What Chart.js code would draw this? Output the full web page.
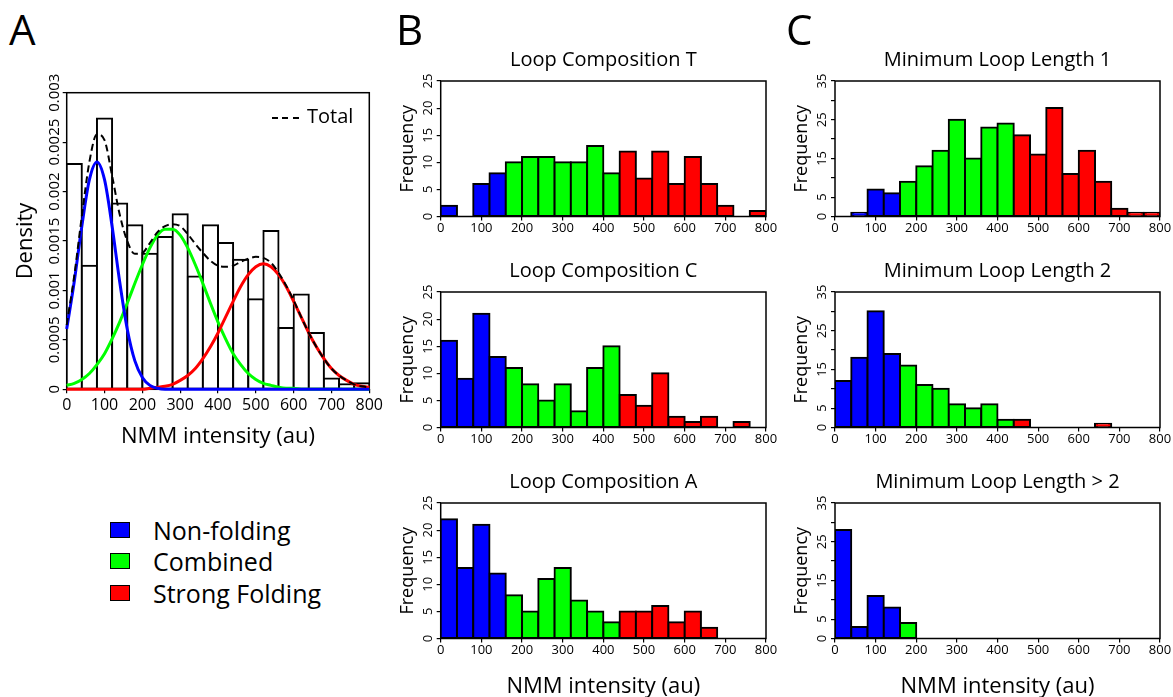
<!DOCTYPE html>
<html>
<head>
<meta charset="utf-8">
<script src="https://cdn.jsdelivr.net/npm/chart.js@4.4.1/dist/chart.umd.min.js"></script>
<style>
  html, body { margin: 0; padding: 0; background: #fff; overflow: hidden; }
  body { width: 1173px; height: 697px; position: relative; font-family: 'Open Sans', sans-serif; color: #000; }
  canvas { position: absolute; }
  .letter { position: absolute; top: 8px; font-size: 42px; line-height: 42px; }
  .total { position: absolute; left: 272px; top: 102px; height: 27px; display: flex; align-items: center; font-size: 20px; }
  .total .dash { width: 27px; height: 2px; margin-right: 8px; position: relative; top: 2px;
    background: repeating-linear-gradient(to right, #000 0 6px, transparent 6px 10.5px); }
  .legend { position: absolute; left: 110px; top: 514px; font-size: 25px; }
  .legend div { display: flex; align-items: center; height: 31.5px; }
  .legend .sq { width: 20px; height: 16px; box-sizing: border-box; border: 1px solid #000; margin-right: 23px; }
</style>
</head>
<body>
<canvas id="panelA" width="390" height="395" style="left:0px;top:65px"></canvas>
<canvas id="loopT" width="392" height="201" style="left:390px;top:41px"></canvas>
<canvas id="loopC" width="392" height="201" style="left:390px;top:252px"></canvas>
<canvas id="loopA" width="392" height="237" style="left:390px;top:463px"></canvas>
<canvas id="minLoop1" width="388" height="201" style="left:785px;top:41px"></canvas>
<canvas id="minLoop2" width="388" height="201" style="left:785px;top:252px"></canvas>
<canvas id="minLoopMore" width="388" height="237" style="left:785px;top:463px"></canvas>

<div class="letter" style="left:9px">A</div>
<div class="letter" style="left:396px">B</div>
<div class="letter" style="left:786px">C</div>
<div class="total"><span class="dash"></span>Total</div>
<div class="legend">
  <div><span class="sq" style="background:#0000ff"></span>Non-folding</div>
  <div><span class="sq" style="background:#00ff00"></span>Combined</div>
  <div><span class="sq" style="background:#ff0000"></span>Strong Folding</div>
</div>

<script>
Chart.defaults.font.family = "'Open Sans', sans-serif";
Chart.defaults.color = '#000';

// histogram bins (left edges), width 40
const bins = [0, 40, 80, 120, 160, 200, 240, 280, 320, 360, 400, 440, 480, 520, 560, 600, 640, 680, 720, 760];
const binWidth = 40;
const groupEdges = [160, 440];
const groupColors = ['#0000ff', '#00ff00', '#ff0000'];

// panel A
const densityAll = [0.00228, 0.00125, 0.00274, 0.00188, 0.00166, 0.00137, 0.00154, 0.00177, 0.00114, 0.00166,
  0.00148, 0.00131, 0.00091, 0.00160, 0.00062, 0.00096, 0.00057, 0.00011, 0.00005, 0.00006];
const curveX = [0, 20, 40, 60, 80, 100, 120, 140, 160, 180, 200, 220, 240, 260, 280, 300, 320, 340, 360, 380, 400,
  420, 440, 460, 480, 500, 520, 540, 560, 580, 600, 620, 640, 660, 680, 700, 720, 740, 760, 780, 800];
const nonFoldingCurve = [0.00061, 0.00109, 0.00165, 0.00212, 0.00230, 0.00212, 0.00165, 0.00109, 0.00061, 0.00029,
  0.00012, 0.00004, 0.00001, 0, 0, 0, 0, 0, 0, 0, 0, 0, 0, 0, 0, 0, 0, 0, 0, 0, 0, 0, 0, 0, 0, 0, 0, 0, 0, 0, 0];
const combinedCurve = [0.00004, 0.00006, 0.00010, 0.00016, 0.00025, 0.00036, 0.00051, 0.00068, 0.00087, 0.00107,
  0.00126, 0.00143, 0.00156, 0.00162, 0.00162, 0.00156, 0.00143, 0.00126, 0.00107, 0.00087, 0.00068,
  0.00051, 0.00036, 0.00025, 0.00016, 0.00010, 0.00006, 0.00004, 0.00002, 0.00001, 0.00001,
  0, 0, 0, 0, 0, 0, 0, 0, 0, 0];
const strongCurve = [0, 0, 0, 0, 0, 0, 0, 0, 0, 0, 0, 0.00001, 0.00002, 0.00003, 0.00005, 0.00009, 0.00014,
  0.00021, 0.00031, 0.00043, 0.00057, 0.00073, 0.00089, 0.00104, 0.00116, 0.00124, 0.00127, 0.00124, 0.00116,
  0.00104, 0.00089, 0.00073, 0.00057, 0.00043, 0.00031, 0.00021, 0.00014, 0.00009, 0.00005, 0.00003, 0.00002];
const totalCurve = [0.00065, 0.00115, 0.00175, 0.00230, 0.00258, 0.00252, 0.00216, 0.00177, 0.00150, 0.00137,
  0.00138, 0.00148, 0.00159, 0.00165, 0.00167, 0.00165, 0.00157, 0.00147, 0.00138, 0.00130, 0.00125,
  0.00124, 0.00125, 0.00129, 0.00132, 0.00134, 0.00133, 0.00128, 0.00118, 0.00105, 0.00090, 0.00073,
  0.00057, 0.00043, 0.00031, 0.00021, 0.00014, 0.00009, 0.00005, 0.00003, 0.00002];

// panel B: loop composition
const loopT = [2, 0, 6, 8, 10, 11, 11, 10, 10, 13, 8, 12, 7, 12, 6, 11, 6, 2, 0, 1];
const loopC = [16, 9, 21, 13, 11, 8, 5, 8, 3, 11, 15, 6, 4, 10, 2, 1, 2, 0, 1, 0];
const loopA = [22, 13, 21, 12, 8, 5, 11, 13, 7, 5, 3, 5, 5, 6, 3, 5, 2, 0, 0, 0];
const loopTicks = [0, 5, 10, 15, 20, 25];

// panel C: minimum loop length
const minLoop1 = [0, 1, 7, 6, 9, 13, 17, 25, 15, 23, 24, 21, 16, 28, 11, 17, 9, 2, 1, 1];
const minLoop2 = [12, 18, 30, 19, 16, 11, 10, 6, 5, 6, 2, 2, 0, 0, 0, 0, 1, 0, 0, 0];
const minLoopMore = [28, 3, 11, 8, 4, 0, 0, 0, 0, 0, 0, 0, 0, 0, 0, 0, 0, 0, 0, 0];
const minLoopTicks = [0, 5, 15, 25, 35];

function groupColor(start) {
    if (start < groupEdges[0]) return groupColors[0];
    if (start < groupEdges[1]) return groupColors[1];
    return groupColors[2];
}

// padding so that rotated y labels sit centred at a given distance from the axis
function yTickPadding(label, size, offset, tickLen) {
    const c = document.createElement('canvas').getContext('2d');
    c.font = size + "px 'Open Sans', sans-serif";
    return offset - tickLen - c.measureText(label).width / 2;
}

// R style frame round the plot region
const boxPlugin = {
    id: 'box',
    beforeDatasetsDraw(chart) {
        const a = chart.chartArea;
        const ctx = chart.ctx;
        ctx.save();
        ctx.strokeStyle = '#000';
        ctx.lineWidth = 1.5;
        ctx.strokeRect(a.left, a.top, a.right - a.left, a.bottom - a.top);
        ctx.restore();
    }
};

const tickGrid = { offset: false, drawOnChartArea: false, drawTicks: true, tickLength: 4, color: '#000', lineWidth: 1.2 };

function histChart(id, counts, title, yMax, yLabels, layout) {
    const ctx = document.getElementById(id).getContext('2d');
    return new Chart(ctx, {
        type: 'bar',
        data: {
            datasets: [{
                data: counts.map((c, i) => ({ x: bins[i] + binWidth / 2, y: c })),
                backgroundColor: bins.map(groupColor),
                borderColor: '#000',
                borderWidth: 2,
                borderSkipped: false,
                inflateAmount: c => (c.raw && c.raw.y > 0 ? 1 : 0),
                barPercentage: 1,
                categoryPercentage: 1
            }]
        },
        options: {
            responsive: false,
            animation: false,
            events: [],
            layout: { padding: { top: 0, left: 0, right: layout.right, bottom: layout.bottom } },
            plugins: {
                legend: { display: false },
                tooltip: { enabled: false },
                title: {
                    display: true,
                    text: title,
                    fullSize: false,
                    color: '#000',
                    font: { size: 20, weight: 'normal' },
                    padding: { top: 7.3, bottom: 8.7 }
                }
            },
            scales: {
                x: {
                    type: 'linear',
                    min: 0,
                    max: 800,
                    offset: false,
                    ticks: { stepSize: 100, autoSkip: false, maxRotation: 0, padding: 0.4, font: { size: 13 } },
                    grid: tickGrid,
                    border: { display: false },
                    title: {
                        display: layout.xTitle,
                        text: 'NMM intensity (au)',
                        font: { size: 22 },
                        padding: { top: 0, bottom: 0 }
                    },
                    afterFit: s => { s.height = layout.xh; }
                },
                y: {
                    min: 0,
                    max: yMax,
                    ticks: {
                        stepSize: 5,
                        autoSkip: false,
                        minRotation: 90,
                        maxRotation: 90,
                        crossAlign: 'center',
                        padding: yTickPadding(String(yMax), 13, 12.6, 4),
                        font: { size: 13 },
                        callback: v => (yLabels.includes(v) ? String(v) : '')
                    },
                    grid: tickGrid,
                    border: { display: false },
                    title: {
                        display: true,
                        text: 'Frequency',
                        font: { size: 18 },
                        padding: { top: layout.yw - 32.9 - 10.8, bottom: 0 }
                    },
                    afterFit: s => { s.width = layout.yw; }
                }
            }
        },
        plugins: [boxPlugin]
    });
}

const colB = { yw: 50.7, right: 16 };
const colC = { yw: 50, right: 13 };
const upper = { xh: 25, bottom: 0.5, xTitle: false };
const lower = { xh: 61.2, bottom: 0.3, xTitle: true };

histChart('loopT', loopT, 'Loop Composition T', 25, loopTicks, { ...colB, ...upper });
histChart('loopC', loopC, 'Loop Composition C', 25, loopTicks, { ...colB, ...upper });
histChart('loopA', loopA, 'Loop Composition A', 25, loopTicks, { ...colB, ...lower });
histChart('minLoop1', minLoop1, 'Minimum Loop Length 1', 35, minLoopTicks, { ...colC, ...upper });
histChart('minLoop2', minLoop2, 'Minimum Loop Length 2', 35, minLoopTicks, { ...colC, ...upper });
histChart('minLoopMore', minLoopMore, 'Minimum Loop Length > 2', 35, minLoopTicks, { ...colC, ...lower });

// Panel A: density histogram with fitted components
const curvePoints = ys => curveX.map((x, i) => ({ x: x, y: ys[i] }));
const curveStyle = {
    type: 'line',
    pointRadius: 0,
    borderWidth: 3,
    fill: false,
    cubicInterpolationMode: 'monotone',
    clip: 6
};

const ctxA = document.getElementById('panelA').getContext('2d');
new Chart(ctxA, {
    type: 'bar',
    data: {
        datasets: [
            { ...curveStyle, label: 'Total', data: curvePoints(totalCurve), borderColor: '#000', borderWidth: 2, borderDash: [7, 4], order: 0 },
            { ...curveStyle, label: 'Non-folding', data: curvePoints(nonFoldingCurve), borderColor: '#0000ff', order: 1 },
            { ...curveStyle, label: 'Strong Folding', data: curvePoints(strongCurve), borderColor: '#ff0000', order: 2 },
            { ...curveStyle, label: 'Combined', data: curvePoints(combinedCurve), borderColor: '#00ff00', order: 3 },
            {
                label: 'All',
                data: densityAll.map((d, i) => ({ x: bins[i] + binWidth / 2, y: d })),
                backgroundColor: '#fff',
                borderColor: '#000',
                borderWidth: 2,
                borderSkipped: false,
                inflateAmount: 1,
                barPercentage: 1,
                categoryPercentage: 1,
                order: 4
            }
        ]
    },
    options: {
        responsive: false,
        animation: false,
        events: [],
        layout: { padding: { top: 27.7, left: 0, right: 20.7, bottom: 9.7 } },
        plugins: {
            legend: { display: false },
            tooltip: { enabled: false }
        },
        scales: {
            x: {
                type: 'linear',
                min: 0,
                max: 800,
                offset: false,
                ticks: { stepSize: 100, autoSkip: false, maxRotation: 0, padding: 2.1, font: { size: 16 } },
                grid: tickGrid,
                border: { display: false },
                title: { display: true, text: 'NMM intensity (au)', font: { size: 22 }, padding: { top: 0, bottom: 0 } },
                afterFit: s => { s.height = 61; }
            },
            y: {
                min: 0,
                max: 0.003,
                ticks: {
                    stepSize: 0.0005,
                    autoSkip: false,
                    minRotation: 90,
                    maxRotation: 90,
                    crossAlign: 'center',
                    padding: yTickPadding('0.0025', 15, 11.9, 4),
                    font: { size: 15 },
                    callback: v => String(+v.toFixed(4))
                },
                grid: tickGrid,
                border: { display: false },
                title: { display: true, text: 'Density', font: { size: 22 }, padding: { top: 12.6, bottom: 0 } },
                afterFit: s => { s.width = 66.7; }
            }
        }
    },
    plugins: [boxPlugin]
});
</script>
</body>
</html>
